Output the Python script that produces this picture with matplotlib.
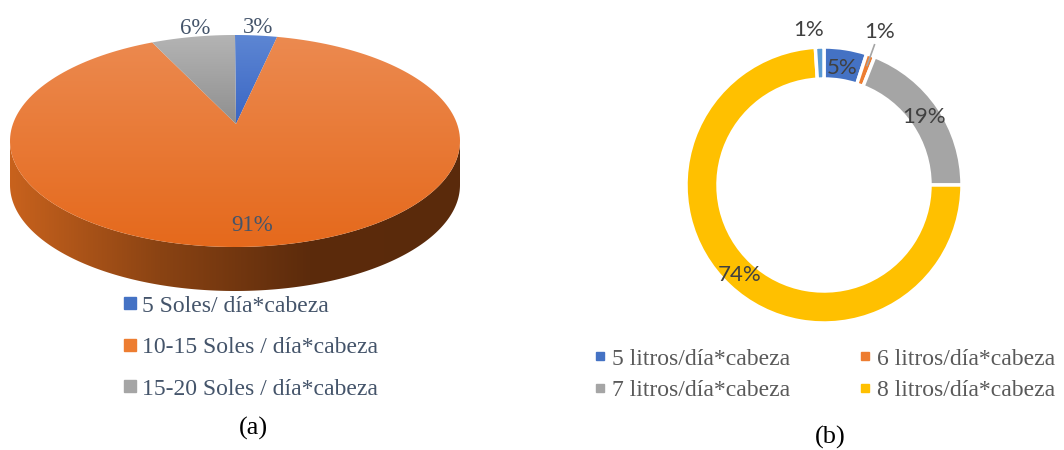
import numpy as np
import matplotlib.pyplot as plt
from matplotlib.patches import Polygon
from matplotlib.lines import Line2D
from matplotlib.colors import LinearSegmentedColormap

# data (a)
cost_labels = ["5 Soles/ día*cabeza", "10-15 Soles / día*cabeza", "15-20 Soles / día*cabeza"]
cost_pct = [3, 91, 6]
cost_colors = ["#4472c4", "#ed7d31", "#a5a5a5"]

# data (b)
water_labels = ["5 litros/día*cabeza", "6 litros/día*cabeza", "7 litros/día*cabeza", "8 litros/día*cabeza"]
water_pct = [5, 1, 19, 74, 1]   # last slice is an unlabeled series
water_colors = ["#4472c4", "#ed7d31", "#a5a5a5", "#ffc000", "#5b9bd5"]

W, H = 1064, 450
fig = plt.figure(figsize=(W / 100, H / 100), dpi=100)
ax = fig.add_axes([0, 0, 1, 1])
ax.axis("off")

serif = "Liberation Serif"


def grad_fill(verts, colors, horizontal=False):
    verts = np.asarray(verts)
    poly = Polygon(verts, closed=True, facecolor="none", edgecolor="none")
    ax.add_patch(poly)
    cmap = LinearSegmentedColormap.from_list("g", colors)
    g = np.linspace(0, 1, 256)
    img = g[None, :] if horizontal else g[:, None]
    x0, x1 = verts[:, 0].min(), verts[:, 0].max()
    y0, y1 = verts[:, 1].min(), verts[:, 1].max()
    im = ax.imshow(img, cmap=cmap, extent=[x0, x1, y0, y1], origin="upper",
                   aspect="auto", interpolation="bilinear", zorder=2)
    im.set_clip_path(poly)


# ---- (a) 3D pie ----
cx, cy = 235, H - 141
rx, ry, depth = 225, 106, 44
apex = (236, H - 124)


def ell(t, f=1.0, dy=0.0):
    return cx + rx * f * np.sin(t), cy + ry * f * np.cos(t) - dy


# side (front half)
t_front = np.linspace(np.pi / 2, 3 * np.pi / 2, 200)
top_x, top_y = ell(t_front)
bot_x, bot_y = ell(t_front[::-1], dy=depth)
side = np.column_stack([np.r_[top_x, bot_x], np.r_[top_y, bot_y]])
grad_fill(side, ["#c8621d", "#8a4313", "#5c2b0c", "#5a2a0b"], horizontal=True)

# top faces
bounds = np.r_[0, np.cumsum(cost_pct)] / 100 * 2 * np.pi
tops = [["#5d86d3", "#3a66c4"], ["#ec8a50", "#e5691c"], ["#b4b4b4", "#8f8f8f"]]
for i in range(len(cost_pct)):
    t = np.linspace(bounds[i], bounds[i + 1], 200)
    x, y = ell(t)
    verts = np.column_stack([np.r_[apex[0], x], np.r_[apex[1], y]])
    grad_fill(verts, tops[i])

label_f = [1.08, 0.8, 1.08]
for i, p in enumerate(cost_pct):
    mid = (bounds[i] + bounds[i + 1]) / 2
    x, y = ell(mid, label_f[i])
    if i == 2:
        x += 6
    ax.text(x, y, f"{p}%", ha="center", va="center", fontsize=16.5,
            family=serif, color="#44546a", zorder=5)

handles_a = [Line2D([], [], marker="s", ls="none", markersize=8.5, color=c) for c in cost_colors]
fig.legend(handles_a, cost_labels, loc="upper left",
           bbox_to_anchor=(123 / W, 1 - 295 / H), frameon=False,
           prop={"family": serif, "size": 17}, labelcolor="#44546a",
           handlelength=0.6, handletextpad=0.2, labelspacing=0.85,
           borderpad=0, borderaxespad=0)

ax.text(253, H - 428, "(a)", ha="center", va="center", fontsize=19, family=serif, color="black")

# ---- (b) doughnut ----
dc = (824, H - 185)
R = 138
ax.pie(water_pct, colors=water_colors, startangle=90, counterclock=False,
       center=dc, radius=R, frame=True,
       wedgeprops=dict(width=32, edgecolor="white", linewidth=2.5))

wb = np.r_[0, np.cumsum(water_pct)] / 100 * 360
label_r = [118, 163, 121, 123, 156]
label_shift = [0, 0, 0, 0, 4.0]
for i, p in enumerate(water_pct):
    mid = np.deg2rad(90 - (wb[i] + wb[i + 1]) / 2 + label_shift[i])
    ax.text(dc[0] + label_r[i] * np.cos(mid), dc[1] + label_r[i] * np.sin(mid), f"{p}%",
            ha="center", va="center", fontsize=16, family="Lato", color="#404040", zorder=5)
# leader line for the small orange slice
mid = np.deg2rad(90 - (wb[1] + wb[2]) / 2)
ax.plot([dc[0] + 127 * np.cos(mid), dc[0] + 149 * np.cos(mid)],
        [dc[1] + 127 * np.sin(mid), dc[1] + 149 * np.sin(mid)], color="#a5a5a5", lw=1.2, zorder=4)

# legend filled row by row: matplotlib fills columns, so reorder
order = [0, 2, 1, 3]
handles_b = [Line2D([], [], marker="s", ls="none", markersize=5.5, color=water_colors[k]) for k in order]
fig.legend(handles_b, [water_labels[k] for k in order], loc="upper left", ncols=2,
           bbox_to_anchor=(594 / W, 1 - 348 / H), frameon=False,
           prop={"family": serif, "size": 17}, labelcolor="#595959",
           handlelength=0.5, handletextpad=0.25, labelspacing=0.44, columnspacing=2.95,
           borderpad=0, borderaxespad=0)

ax.text(830, H - 437, "(b)", ha="center", va="center", fontsize=19, family=serif, color="black")

ax.set_xlim(0, W)
ax.set_ylim(0, H)
ax.set_aspect("auto")
ax.axis("off")
fig.savefig("out.png", dpi=100)
